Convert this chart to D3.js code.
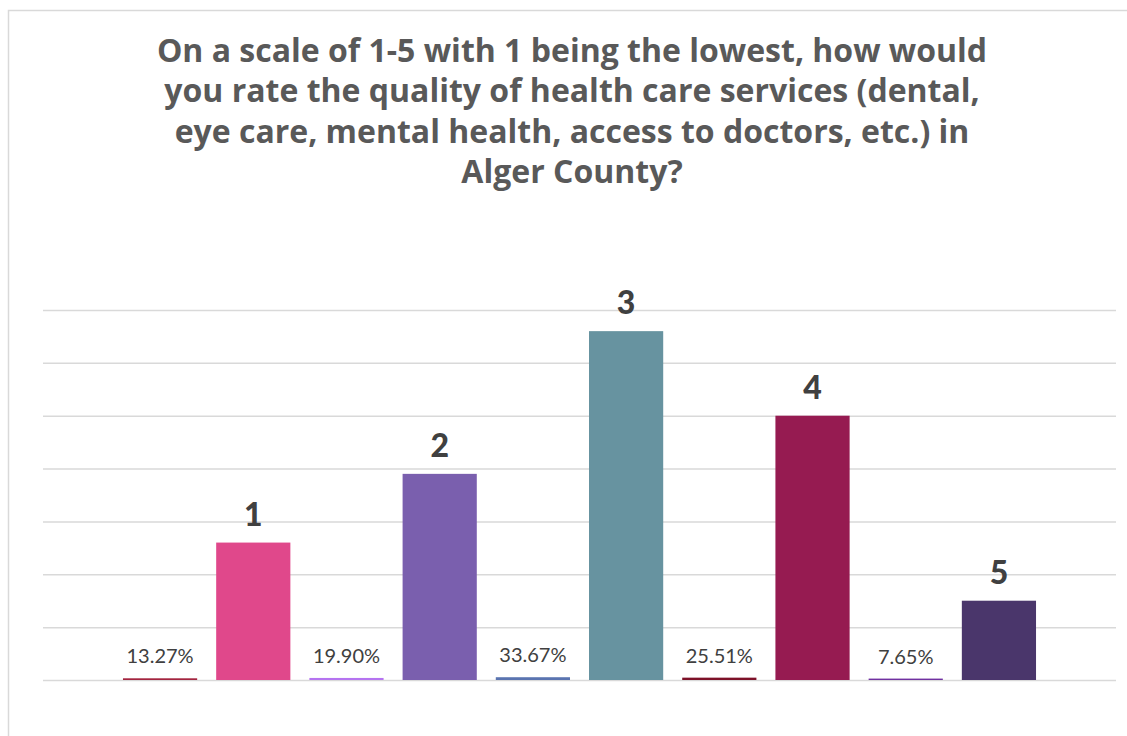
<!DOCTYPE html>
<html>
<head>
<meta charset="utf-8">
<script src="https://cdn.jsdelivr.net/npm/d3@7"></script>
<style>
  html, body { margin: 0; padding: 0; background: #fff; }
  svg { display: block; }
</style>
</head>
<body>
<svg id="chart" width="1127" height="736"></svg>
<script>
// ---- data ----
const categories = ["1", "2", "3", "4", "5"];
const percentValues = [0.1327, 0.1990, 0.3367, 0.2551, 0.0765];
const percentLabels = ["13.27%", "19.90%", "33.67%", "25.51%", "7.65%"];
const countValues = [26, 39, 66, 50, 15];
const yTicks = [0, 10, 20, 30, 40, 50, 60, 70];
const titleLines = [
  "On a scale of 1-5 with 1 being the lowest, how would",
  "you rate the quality of health care services (dental,",
  "eye care, mental health, access to doctors, etc.) in",
  "Alger County?"
];
const percentColors = ["#a3243f", "#b574f0", "#5a74b0", "#7d1128", "#7030a0"];
const countColors = ["#e0488b", "#7a5fae", "#6793a0", "#961b51", "#4a366b"];
const seriesKeys = ["pct", "count"];

// ---- layout ----
const W = 1127, H = 736;
const plot = { left: 43, right: 1116, top: 310, bottom: 680 };
const svg = d3.select("#chart");

// chart border
svg.append("rect")
  .attr("x", 8.5).attr("y", 10.5)
  .attr("width", W + 10).attr("height", H + 10)
  .attr("fill", "#fff").attr("stroke", "#d9d9d9").attr("stroke-width", 1.5);

const x0 = d3.scaleBand().domain(categories)
  .range([plot.left, plot.right]).paddingInner(0.102).paddingOuter(0.429);
const x1 = d3.scaleBand().domain(seriesKeys)
  .range([0, x0.bandwidth()]).paddingInner(0.204).paddingOuter(0);
const y = d3.scaleLinear().domain([0, 70]).range([plot.bottom, plot.top]);

// gridlines via axis
const yAxis = d3.axisLeft(y).tickValues(yTicks).tickSize(-(plot.right - plot.left)).tickFormat("");
const gAxis = svg.append("g").attr("transform", `translate(${plot.left},0)`).call(yAxis);
gAxis.select(".domain").remove();
gAxis.selectAll(".tick line").attr("stroke", "#d9d9d9").attr("stroke-width", 1.5);

// title
const title = svg.append("text")
  .attr("text-anchor", "middle")
  .attr("font-family", "'Open Sans', Lato, sans-serif")
  .attr("font-weight", "bold")
  .attr("fill", "#595959")
  .attr("font-size", 28);
titleLines.forEach((t, i) => {
  title.append("tspan").attr("x", 572).attr("y", 62 + i * 40.3).text(t);
});
// fit widest line to ~850px
const firstW = title.select("tspan").node().getComputedTextLength();
const fs = Math.max(24, Math.min(32, 28 * 850 / firstW));
title.attr("font-size", fs);

// bars
const groups = svg.append("g").selectAll("g")
  .data(categories.map((c, i) => ({ c, i })))
  .join("g")
  .attr("transform", d => `translate(${x0(d.c)},0)`);

// percent (tiny) bars
groups.append("rect")
  .attr("x", x1("pct"))
  .attr("width", x1.bandwidth())
  .attr("y", d => y(percentValues[d.i]) - 1)
  .attr("height", d => y(0) - y(percentValues[d.i]) + 1)
  .attr("fill", d => percentColors[d.i]);

// count bars
groups.append("rect")
  .attr("x", x1("count"))
  .attr("width", x1.bandwidth())
  .attr("y", d => y(countValues[d.i]))
  .attr("height", d => y(0) - y(countValues[d.i]))
  .attr("fill", d => countColors[d.i]);

// percent labels
groups.append("text")
  .attr("x", x1("pct") + x1.bandwidth() / 2)
  .attr("y", d => y(percentValues[d.i]) - 16)
  .attr("text-anchor", "middle")
  .attr("font-family", "Lato, 'Open Sans', sans-serif")
  .attr("font-weight", 400)
  .attr("font-size", 20)
  .attr("fill", "#404040")
  .text(d => percentLabels[d.i]);

// category labels on count bars
groups.append("text")
  .attr("x", x1("count") + x1.bandwidth() / 2)
  .attr("y", d => y(countValues[d.i]) - 17)
  .attr("text-anchor", "middle")
  .attr("font-family", "Lato, 'Open Sans', sans-serif")
  .attr("font-weight", 900)
  .attr("font-size", 32)
  .attr("fill", "#404040")
  .text(d => d.c);
</script>
</body>
</html>
